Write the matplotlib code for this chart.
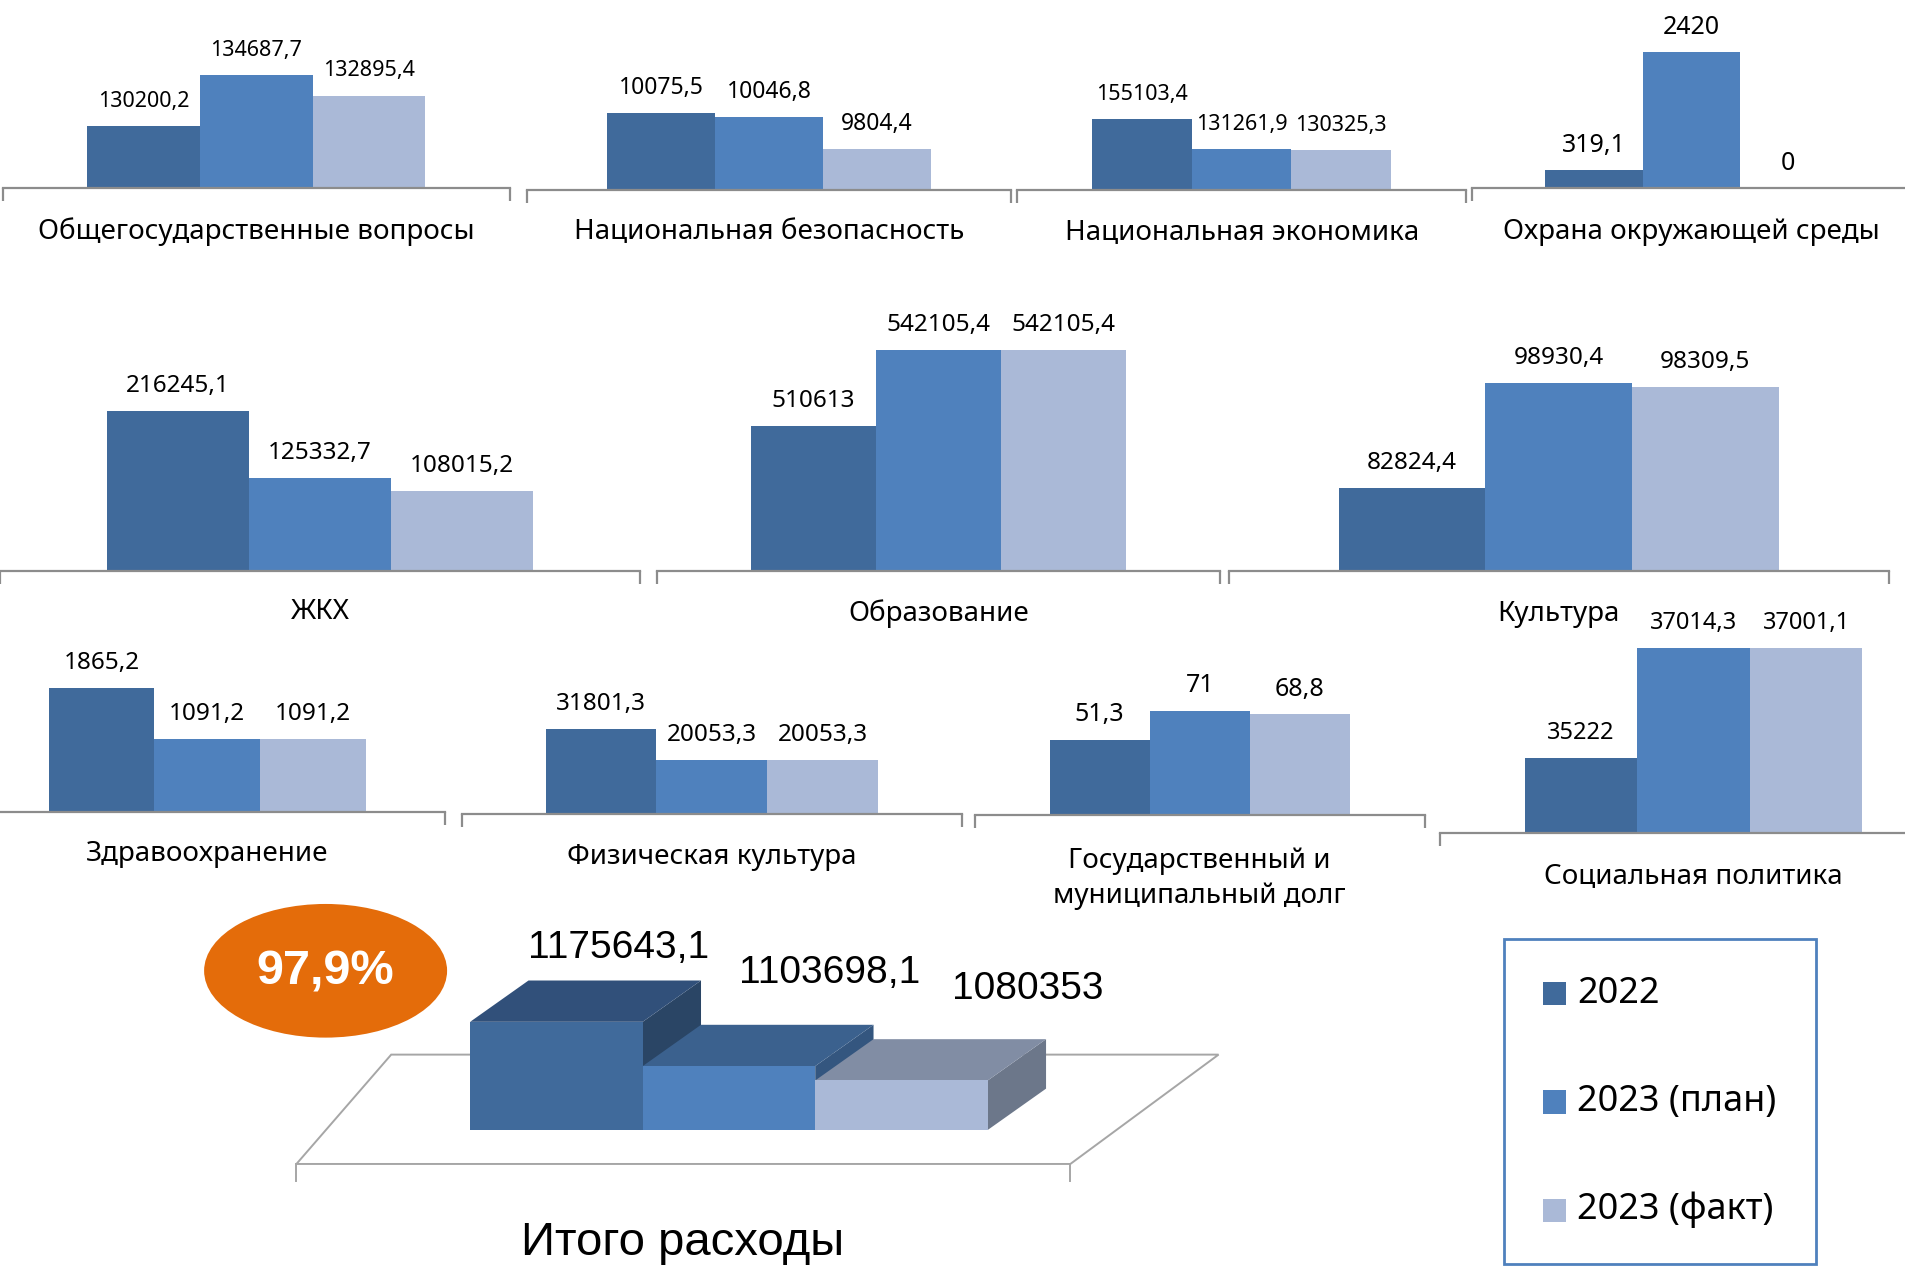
import matplotlib
matplotlib.use("Agg")
import matplotlib.pyplot as plt
from matplotlib.patches import Polygon, Ellipse, Rectangle

plt.rcParams['font.family'] = ['Noto Sans', 'DejaVu Sans']

# data
categories = ["Общегосударственные вопросы", "Национальная безопасность",
              "Национальная экономика", "Охрана окружающей среды",
              "ЖКХ", "Образование", "Культура",
              "Здравоохранение", "Физическая культура",
              "Государственный и\nмуниципальный долг", "Социальная политика"]
v2022 = [130200.2, 10075.5, 155103.4, 319.1, 216245.1, 510613, 82824.4,
         1865.2, 31801.3, 51.3, 35222]
v2023_plan = [134687.7, 10046.8, 131261.9, 2420, 125332.7, 542105.4, 98930.4,
              1091.2, 20053.3, 71, 37014.3]
v2023_fact = [132895.4, 9804.4, 130325.3, 0, 108015.2, 542105.4, 98309.5,
              1091.2, 20053.3, 68.8, 37001.1]
series = ["2022", "2023 (план)", "2023 (факт)"]
total_label = "Итого расходы"
totals = [1175643.1, 1103698.1, 1080353]
percent_text = "97,9%"

colors = ["#406A9B", "#4F81BD", "#AAB9D7"]
top_colors = ["#31507A", "#3B618E", "#818DA4"]
side_colors = ["#2A4565", "#34567F", "#6C778A"]

# reference frame in screen pixels
W, H = 1568, 1042.8
def fx(x):
    return x / W
def fy(y):
    return 1 - y / H

def fmt(v):
    s = str(v).replace(".", ",")
    if s.endswith(",0"):
        s = s[:-2]
    return s

# left bar edge, right bar edge, base y, top y, axis min, category label y, label size
layout = [
    (72, 350, 155, 62, 124750, 191, 15.5),
    (500, 766, 156, 93, 9500, 191, 16.5),
    (899, 1145, 156, 98, 99000, 191, 15.5),
    (1272, 1512, 155, 43, 0, 191, 18),
    (88, 439, 470, 338, 0, 504, 17.5),
    (618, 927, 470, 288, 451000, 505, 17.5),
    (1102, 1464, 470, 315, 70000, 505, 17.5),
    (40, 301, 668, 566, 0, 703, 17.5),
    (449, 723, 670, 600, 0, 705, 17.5),
    (864, 1111, 671, 585, 0, 723, 18),
    (1255, 1533, 686, 533, 34000, 721, 17),
]

fig = plt.figure(figsize=(19.05, 12.67), dpi=100)

bg = fig.add_axes([0, 0, 1, 1])
bg.set_xlim(0, W)
bg.set_ylim(H, 0)
bg.axis("off")

for i, cat in enumerate(categories):
    vals = [v2022[i], v2023_plan[i], v2023_fact[i]]
    xl, xr, yb, yt, ymin, cy, fs = layout[i]
    bw = (xr - xl) / 3
    a0 = xl - 0.75 * bw
    a1 = xr + 0.75 * bw
    ax = fig.add_axes([fx(a0), fy(yb), fx(a1) - fx(a0), fy(yt) - fy(yb)])
    ax.patch.set_alpha(0)
    ax.bar(range(3), vals, width=1.0, color=colors)
    ax.set_xlim(-1.25, 3.25)
    ax.set_ylim(ymin, max(vals))
    for s in ["top", "left", "right"]:
        ax.spines[s].set_visible(False)
    ax.spines["bottom"].set_color("#8C8C8C")
    ax.spines["bottom"].set_linewidth(1.6)
    ax.set_xticks([-1.25, 3.25])
    ax.set_xticklabels([])
    ax.tick_params(axis="x", length=9, width=1.6, color="#8C8C8C", direction="out")
    ax.set_yticks([])
    for j, v in enumerate(vals):
        ax.annotate(fmt(v), (j, max(v, ymin)), xytext=(0, 18), textcoords="offset points",
                    ha="center", va="center", fontsize=fs, annotation_clip=False)
    fig.text(fx((xl + xr) / 2), fy(cy), cat, ha="center", va="center",
             fontsize=20, linespacing=1.35)

# floor of the 3D total chart
floor = Polygon([(244, 958), (881, 958), (1003, 868), (322, 868)], closed=True,
                fc="white", ec="#A6A6A6", lw=1.4)
bg.add_patch(floor)
bg.plot([244, 244], [958, 972], color="#A6A6A6", lw=1.4)
bg.plot([881, 881], [958, 972], color="#A6A6A6", lw=1.4)

# 3D bars
tmin = 1000000
ax3 = fig.add_axes([fx(387), fy(930), fx(813) - fx(387), fy(841) - fy(930)])
ax3.patch.set_alpha(0)
ax3.set_xlim(-0.5, 2.5)
ax3.set_ylim(tmin, max(totals))
ax3.axis("off")
ddx = 48 / 142
ddy = 34 / 89 * (max(totals) - tmin)
label_off = [(2.6, 23.5), (30.6, 37.5), (49, 36)]
fronts = ax3.bar(range(3), totals, width=1.0, color=colors)
for i, v in enumerate(totals):
    x0, x1 = i - 0.5, i + 0.5
    side = Polygon([(x1, tmin), (x1, v), (x1 + ddx, v + ddy), (x1 + ddx, tmin + ddy)],
                   closed=True, fc=side_colors[i], ec="none", zorder=2 + 3 * i, clip_on=False)
    top = Polygon([(x0, v), (x1, v), (x1 + ddx, v + ddy), (x0 + ddx, v + ddy)],
                  closed=True, fc=top_colors[i], ec="none", zorder=3 + 3 * i, clip_on=False)
    ax3.add_patch(side)
    ax3.add_patch(top)
    fronts[i].set_zorder(4 + 3 * i)
    ax3.annotate(fmt(v), (i + ddx, v + ddy), xytext=label_off[i], textcoords="offset points",
                 ha="center", va="center", fontsize=28, family="Liberation Sans",
                 annotation_clip=False)

fig.text(fx(562), fy(1023), total_label, ha="center", va="center",
         fontsize=34, family="Liberation Sans")

# orange badge
bg.add_patch(Ellipse((268, 799), 200, 110, fc="#E46C0A", ec="none"))
bg.text(268, 800, percent_text, ha="center", va="center", color="white",
        fontsize=35, fontweight="bold", family="Liberation Sans")

# legend
bg.add_patch(Rectangle((1238, 773), 257, 267, fill=False, ec="#4F81BD", lw=2))
for k, (name, yc) in enumerate(zip(series, [818, 907, 996])):
    bg.add_patch(Rectangle((1270, yc - 9.5), 19, 19, fc=colors[k], ec="none"))
    bg.text(1298, yc, name, ha="left", va="center", fontsize=26)

fig.savefig("out.png", dpi=100)
